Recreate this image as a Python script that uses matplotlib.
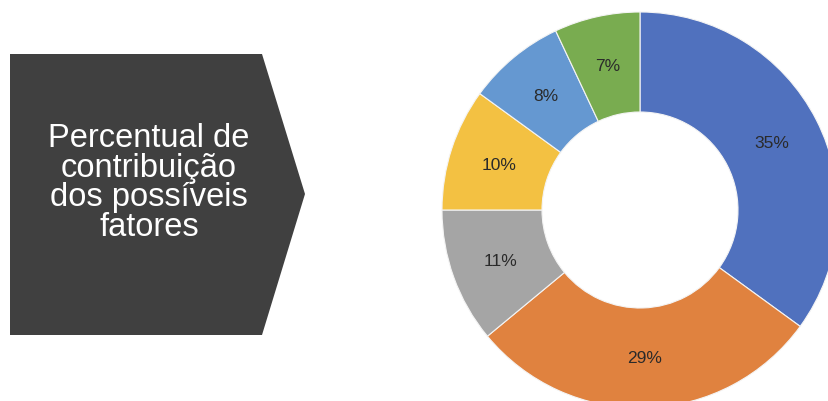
import matplotlib.pyplot as plt
from matplotlib.patches import Polygon

# shares of each factor, clockwise from 12 o'clock
shares = [35, 29, 11, 10, 8, 7]
colors = ['#5071BE', '#E0823F', '#A5A5A5', '#F3C142', '#6598D1', '#79AC50']
title = 'Percentual de\ncontribuição\ndos possíveis\nfatores'

W, H = 829, 402
fig = plt.figure(figsize=(W / 100, H / 100), dpi=100)
ax = fig.add_axes([0, 0, 1, 1])

# chevron box on the left (pixel coords, y measured from top)
chevron = [(10, 55), (262, 55), (305, 195), (262, 336), (10, 336)]
ax.add_patch(Polygon([(x, H - y) for x, y in chevron], closed=True,
                     facecolor='#404040', edgecolor='none'))
ax.text(149, H - 183, title, color='white', ha='center', va='center',
        fontsize=23.5, family='Liberation Sans', linespacing=0.95)

# donut
cx, cy, r = 640, H - 211, 198
wedges, texts, autotexts = ax.pie(
    shares, colors=colors, startangle=90, counterclock=False,
    center=(cx, cy), radius=r, autopct='%.0f%%', pctdistance=148 / r,
    wedgeprops=dict(width=100, edgecolor='#f4f4f4', linewidth=0.8),
    textprops=dict(color='#2a2a2a', fontsize=12.5, family='Liberation Sans'))

ax.set_xlim(0, W)
ax.set_ylim(0, H)
ax.set_aspect('equal', adjustable='datalim')
ax.axis('off')

fig.savefig('out.png', dpi=100)
